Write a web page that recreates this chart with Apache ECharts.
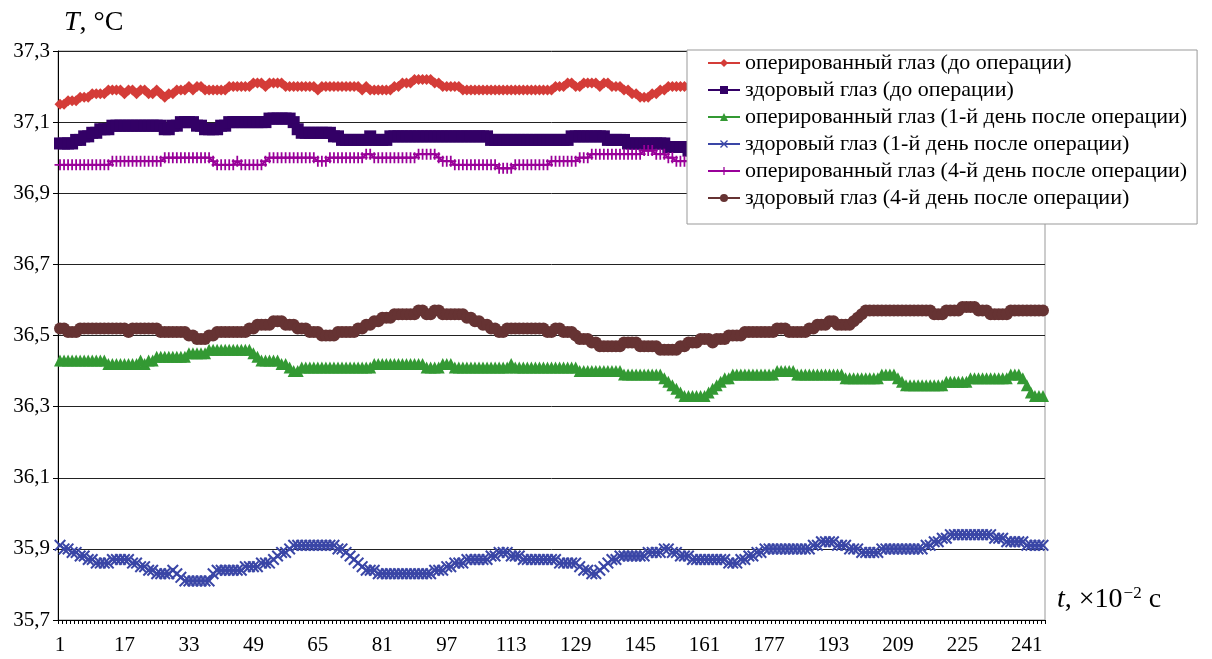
<!DOCTYPE html>
<html><head><meta charset="utf-8">
<script src="https://cdn.jsdelivr.net/npm/echarts@6/dist/echarts.min.js"></script>
<style>html,body{margin:0;padding:0;background:#fff}#c{width:1212px;height:659px}</style>
</head><body><div id="c"></div>
<script>
// categories 1..245 (time, x10^-2 s)
const categories = [];
for (let i = 1; i <= 245; i++) categories.push(String(i));

const seriesNames = [
  'оперированный глаз (до операции)',
  'здоровый глаз (до операции)',
  'оперированный глаз (1-й день после операции)',
  'здоровый глаз (1-й день после операции)',
  'оперированный глаз (4-й день после операции)',
  'здоровый глаз (4-й день после операции)'
];

const yTicks = [35.7, 35.9, 36.1, 36.3, 36.5, 36.7, 36.9, 37.1, 37.3];

const operBefore = [
37.15,37.15,37.16,37.16,37.16,37.17,37.17,37.17,37.18,37.18,
37.18,37.18,37.19,37.19,37.19,37.19,37.18,37.19,37.19,37.18,
37.19,37.19,37.18,37.18,37.19,37.18,37.17,37.18,37.18,37.19,
37.19,37.19,37.20,37.19,37.20,37.20,37.19,37.19,37.19,37.19,
37.19,37.19,37.20,37.20,37.20,37.20,37.20,37.20,37.21,37.21,
37.21,37.20,37.21,37.21,37.21,37.21,37.20,37.20,37.20,37.20,
37.20,37.20,37.20,37.20,37.19,37.20,37.20,37.20,37.20,37.20,
37.20,37.20,37.20,37.20,37.20,37.19,37.20,37.19,37.19,37.19,
37.19,37.19,37.19,37.20,37.20,37.21,37.21,37.21,37.22,37.22,
37.22,37.22,37.22,37.21,37.21,37.20,37.20,37.20,37.20,37.20,
37.19,37.19,37.19,37.19,37.19,37.19,37.19,37.19,37.19,37.19,
37.19,37.19,37.19,37.19,37.19,37.19,37.19,37.19,37.19,37.19,
37.19,37.19,37.19,37.20,37.20,37.20,37.21,37.21,37.20,37.20,
37.21,37.21,37.21,37.21,37.20,37.21,37.21,37.20,37.20,37.20,
37.19,37.19,37.18,37.18,37.17,37.17,37.17,37.18,37.18,37.19,
37.19,37.20,37.20,37.20,37.20,37.20,37.20,37.20,37.20,37.20,
37.20,37.20,37.20,37.20,37.21,37.21,37.21,37.20,37.20,37.20,
37.20,37.20,37.20,37.20,37.20,37.20,37.19,37.19,37.19,37.19,
37.19,37.19,37.20,37.20,37.20,37.20,37.20,37.21,37.21,37.21,
37.21,37.20,37.20,37.20,37.20,37.20,37.20,37.20,37.19,37.19,
37.19,37.19,37.19,37.20,37.20,37.20,37.20,37.20,37.20,37.20,
37.21,37.21,37.21,37.21,37.20,37.20,37.20,37.20,37.20,37.20,
37.20,37.20,37.20,37.20,37.21,37.21,37.21,37.21,37.21,37.20,
37.20,37.20,37.20,37.20,37.20,37.19,37.19,37.19,37.20,37.20,
37.20,37.20,37.20,37.20,37.20
];

const healthyBefore = [
37.04,37.04,37.04,37.04,37.05,37.05,37.06,37.06,37.07,37.07,
37.08,37.08,37.08,37.09,37.09,37.09,37.09,37.09,37.09,37.09,
37.09,37.09,37.09,37.09,37.09,37.09,37.08,37.08,37.09,37.09,
37.10,37.10,37.10,37.10,37.09,37.09,37.08,37.08,37.08,37.08,
37.09,37.09,37.10,37.10,37.10,37.10,37.10,37.10,37.10,37.10,
37.10,37.10,37.11,37.11,37.11,37.11,37.11,37.11,37.10,37.08,
37.07,37.07,37.07,37.07,37.07,37.07,37.07,37.07,37.06,37.06,
37.05,37.05,37.05,37.05,37.05,37.05,37.05,37.06,37.05,37.05,
37.05,37.05,37.06,37.06,37.06,37.06,37.06,37.06,37.06,37.06,
37.06,37.06,37.06,37.06,37.06,37.06,37.06,37.06,37.06,37.06,
37.06,37.06,37.06,37.06,37.06,37.06,37.06,37.05,37.05,37.05,
37.05,37.05,37.05,37.05,37.05,37.05,37.05,37.05,37.05,37.05,
37.05,37.05,37.05,37.05,37.05,37.05,37.05,37.06,37.06,37.06,
37.06,37.06,37.06,37.06,37.06,37.06,37.05,37.05,37.05,37.05,
37.05,37.04,37.04,37.04,37.04,37.04,37.04,37.04,37.04,37.04,
37.04,37.03,37.03,37.03,37.03,37.03,37.02,37.02,37.02,37.02,
37.02,37.02,37.02,37.02,37.03,37.03,37.03,37.03,37.03,37.03,
37.03,37.03,37.03,37.03,37.03,37.03,37.03,37.03,37.03,37.03,
37.04,37.04,37.04,37.04,37.04,37.04,37.04,37.04,37.04,37.04,
37.04,37.04,37.04,37.04,37.04,37.03,37.03,37.03,37.03,37.03,
37.03,37.03,37.03,37.03,37.03,37.03,37.03,37.03,37.03,37.03,
37.03,37.03,37.04,37.04,37.04,37.04,37.04,37.04,37.04,37.04,
37.04,37.04,37.04,37.04,37.04,37.04,37.04,37.04,37.04,37.04,
37.04,37.04,37.04,37.04,37.04,37.04,37.04,37.04,37.04,37.04,
37.04,37.04,37.04,37.04,37.04
];

const operDay1 = [
36.43,36.43,36.43,36.43,36.43,36.43,36.43,36.43,36.43,36.43,
36.43,36.43,36.42,36.42,36.42,36.42,36.42,36.42,36.42,36.42,
36.43,36.42,36.43,36.43,36.44,36.44,36.44,36.44,36.44,36.44,
36.44,36.44,36.45,36.45,36.45,36.45,36.45,36.46,36.46,36.46,
36.46,36.46,36.46,36.46,36.46,36.46,36.46,36.46,36.45,36.44,
36.43,36.43,36.43,36.43,36.43,36.42,36.42,36.41,36.40,36.40,
36.41,36.41,36.41,36.41,36.41,36.41,36.41,36.41,36.41,36.41,
36.41,36.41,36.41,36.41,36.41,36.41,36.41,36.41,36.42,36.42,
36.42,36.42,36.42,36.42,36.42,36.42,36.42,36.42,36.42,36.42,
36.42,36.41,36.41,36.41,36.41,36.42,36.42,36.42,36.41,36.41,
36.41,36.41,36.41,36.41,36.41,36.41,36.41,36.41,36.41,36.41,
36.41,36.41,36.42,36.41,36.41,36.41,36.41,36.41,36.41,36.41,
36.41,36.41,36.41,36.41,36.41,36.41,36.41,36.41,36.41,36.40,
36.40,36.40,36.40,36.40,36.40,36.40,36.40,36.40,36.40,36.40,
36.39,36.39,36.39,36.39,36.39,36.39,36.39,36.39,36.39,36.39,
36.38,36.37,36.36,36.35,36.34,36.33,36.33,36.33,36.33,36.33,
36.33,36.34,36.35,36.36,36.37,36.38,36.38,36.39,36.39,36.39,
36.39,36.39,36.39,36.39,36.39,36.39,36.39,36.39,36.40,36.40,
36.40,36.40,36.40,36.39,36.39,36.39,36.39,36.39,36.39,36.39,
36.39,36.39,36.39,36.39,36.39,36.38,36.38,36.38,36.38,36.38,
36.38,36.38,36.38,36.38,36.39,36.39,36.39,36.39,36.38,36.37,
36.36,36.36,36.36,36.36,36.36,36.36,36.36,36.36,36.36,36.36,
36.37,36.37,36.37,36.37,36.37,36.37,36.38,36.38,36.38,36.38,
36.38,36.38,36.38,36.38,36.38,36.38,36.39,36.39,36.39,36.38,
36.36,36.34,36.33,36.33,36.33
];

const healthyDay1 = [
35.91,35.90,35.90,35.89,35.89,35.88,35.88,35.87,35.87,35.86,
35.86,35.86,35.86,35.87,35.87,35.87,35.87,35.87,35.86,35.86,
35.85,35.85,35.84,35.84,35.83,35.83,35.83,35.83,35.84,35.83,
35.82,35.81,35.81,35.81,35.81,35.81,35.81,35.81,35.83,35.84,
35.84,35.84,35.84,35.84,35.84,35.84,35.85,35.85,35.85,35.85,
35.86,35.86,35.86,35.87,35.88,35.89,35.89,35.90,35.91,35.91,
35.91,35.91,35.91,35.91,35.91,35.91,35.91,35.91,35.91,35.90,
35.90,35.89,35.88,35.87,35.86,35.85,35.84,35.84,35.84,35.83,
35.83,35.83,35.83,35.83,35.83,35.83,35.83,35.83,35.83,35.83,
35.83,35.83,35.83,35.84,35.84,35.84,35.85,35.85,35.86,35.86,
35.86,35.87,35.87,35.87,35.87,35.87,35.87,35.88,35.88,35.89,
35.89,35.89,35.88,35.88,35.88,35.87,35.87,35.87,35.87,35.87,
35.87,35.87,35.87,35.87,35.86,35.86,35.86,35.86,35.86,35.85,
35.84,35.84,35.83,35.83,35.84,35.85,35.86,35.87,35.87,35.88,
35.88,35.88,35.88,35.88,35.88,35.88,35.89,35.89,35.89,35.89,
35.90,35.90,35.89,35.89,35.88,35.88,35.88,35.87,35.87,35.87,
35.87,35.87,35.87,35.87,35.87,35.87,35.86,35.86,35.86,35.87,
35.87,35.88,35.88,35.89,35.89,35.90,35.90,35.90,35.90,35.90,
35.90,35.90,35.90,35.90,35.90,35.90,35.90,35.91,35.91,35.92,
35.92,35.92,35.92,35.91,35.91,35.91,35.90,35.90,35.90,35.89,
35.89,35.89,35.89,35.89,35.90,35.90,35.90,35.90,35.90,35.90,
35.90,35.90,35.90,35.90,35.90,35.91,35.91,35.92,35.92,35.93,
35.93,35.94,35.94,35.94,35.94,35.94,35.94,35.94,35.94,35.94,
35.94,35.94,35.93,35.93,35.93,35.92,35.92,35.92,35.92,35.92,
35.91,35.91,35.91,35.91,35.91
];

const operDay4 = [
36.98,36.98,36.98,36.98,36.98,36.98,36.98,36.98,36.98,36.98,
36.98,36.98,36.98,36.99,36.99,36.99,36.99,36.99,36.99,36.99,
36.99,36.99,36.99,36.99,36.99,36.99,37.00,37.00,37.00,37.00,
37.00,37.00,37.00,37.00,37.00,37.00,37.00,37.00,36.99,36.98,
36.98,36.98,36.98,36.98,36.99,36.98,36.98,36.98,36.98,36.98,
36.98,36.99,37.00,37.00,37.00,37.00,37.00,37.00,37.00,37.00,
37.00,37.00,37.00,37.00,36.99,36.99,36.99,37.00,37.00,37.00,
37.00,37.00,37.00,37.00,37.00,37.00,37.01,37.01,37.00,37.00,
37.00,37.00,37.00,37.00,37.00,37.00,37.00,37.00,37.00,37.01,
37.01,37.01,37.01,37.01,37.00,36.99,36.99,36.99,36.98,36.98,
36.98,36.98,36.98,36.98,36.98,36.98,36.98,36.98,36.98,36.97,
36.97,36.97,36.97,36.98,36.98,36.98,36.98,36.98,36.98,36.98,
36.98,36.98,36.99,36.99,36.99,36.99,36.99,36.99,36.99,37.00,
37.00,37.00,37.01,37.01,37.01,37.01,37.01,37.01,37.01,37.01,
37.01,37.01,37.01,37.01,37.01,37.02,37.02,37.02,37.01,37.01,
37.01,37.00,37.00,36.99,36.99,36.99,36.99,36.99,36.99,36.99,
36.99,36.99,36.99,36.99,36.99,36.99,36.99,36.99,36.99,37.00,
37.00,37.00,37.00,37.00,37.00,37.00,37.00,37.00,37.00,37.00,
37.00,37.00,37.00,37.00,37.00,37.00,37.00,37.00,37.00,37.00,
37.00,37.00,37.01,37.01,37.01,37.01,37.01,37.01,37.01,37.01,
37.00,37.00,37.00,37.00,37.00,37.00,37.00,37.00,37.00,37.00,
37.00,37.00,37.00,37.00,37.00,37.00,37.00,37.00,37.00,37.00,
37.00,37.00,37.00,37.00,37.01,37.01,37.01,37.01,37.01,37.01,
37.01,37.01,37.01,37.01,37.01,37.01,37.01,37.01,37.01,37.01,
37.01,37.01,37.01,37.01,37.01
];

const healthyDay4 = [
36.52,36.52,36.51,36.51,36.51,36.52,36.52,36.52,36.52,36.52,
36.52,36.52,36.52,36.52,36.52,36.52,36.52,36.51,36.52,36.52,
36.52,36.52,36.52,36.52,36.52,36.51,36.51,36.51,36.51,36.51,
36.51,36.51,36.50,36.50,36.49,36.49,36.49,36.50,36.50,36.51,
36.51,36.51,36.51,36.51,36.51,36.51,36.51,36.52,36.52,36.53,
36.53,36.53,36.53,36.54,36.54,36.54,36.53,36.53,36.53,36.52,
36.52,36.52,36.51,36.51,36.51,36.50,36.50,36.50,36.50,36.51,
36.51,36.51,36.51,36.51,36.52,36.52,36.53,36.53,36.54,36.54,
36.55,36.55,36.55,36.56,36.56,36.56,36.56,36.56,36.56,36.57,
36.57,36.56,36.56,36.57,36.57,36.56,36.56,36.56,36.56,36.56,
36.56,36.55,36.55,36.54,36.54,36.53,36.53,36.52,36.52,36.51,
36.51,36.52,36.52,36.52,36.52,36.52,36.52,36.52,36.52,36.52,
36.52,36.51,36.51,36.52,36.52,36.51,36.51,36.51,36.50,36.49,
36.49,36.49,36.48,36.48,36.47,36.47,36.47,36.47,36.47,36.47,
36.48,36.48,36.48,36.48,36.47,36.47,36.47,36.47,36.47,36.46,
36.46,36.46,36.46,36.46,36.47,36.47,36.48,36.48,36.48,36.49,
36.49,36.49,36.48,36.49,36.49,36.49,36.50,36.50,36.50,36.50,
36.51,36.51,36.51,36.51,36.51,36.51,36.51,36.51,36.52,36.52,
36.52,36.51,36.51,36.51,36.51,36.51,36.52,36.52,36.53,36.53,
36.53,36.54,36.54,36.53,36.53,36.53,36.53,36.54,36.55,36.56,
36.57,36.57,36.57,36.57,36.57,36.57,36.57,36.57,36.57,36.57,
36.57,36.57,36.57,36.57,36.57,36.57,36.57,36.56,36.56,36.56,
36.57,36.57,36.57,36.57,36.58,36.58,36.58,36.58,36.57,36.57,
36.57,36.56,36.56,36.56,36.56,36.56,36.57,36.57,36.57,36.57,
36.57,36.57,36.57,36.57,36.57
];

const seriesData = [operBefore, healthyBefore, operDay1, healthyDay1, operDay4, healthyDay4];
const colors = ['#d43c38', '#330066', '#339933', '#3a46a6', '#990099', '#663333'];
const symbols = [
  'diamond',
  'rect',
  'triangle',
  'path://M0,1.2L1.2,0L5,3.8L8.8,0L10,1.2L6.2,5L10,8.8L8.8,10L5,6.2L1.2,10L0,8.8L3.8,5Z',
  'path://M4.2,0H5.8V4.2H10V5.8H5.8V10H4.2V5.8H0V4.2H4.2Z',
  'circle'
];
const symbolSizes = [11, 12, 12, 12, 11, 12];

const SERIF = '"Liberation Serif", "DejaVu Serif", serif';

const chart = echarts.init(document.getElementById('c'), null, {renderer: 'canvas'});

const series = seriesNames.map((name, k) => ({
  name: name,
  type: 'line',
  data: seriesData[k],
  symbol: symbols[k],
  symbolSize: symbolSizes[k],
  showSymbol: true,
  showAllSymbol: true,
  color: colors[k],
  itemStyle: {color: colors[k]},
  lineStyle: {color: colors[k], width: 2},
  emphasis: {disabled: true},
  z: 2
}));

chart.setOption({
  animation: false,
  backgroundColor: '#fff',
  grid: {left: 58, right: 167, top: 51, bottom: 39, show: true, borderColor: '#999', borderWidth: 1},
  legend: {
    orient: 'vertical',
    left: 687,
    top: 50,
    padding: [2, 10, 15, 20],
    itemGap: 5,
    itemWidth: 32,
    itemHeight: 10,
    backgroundColor: '#fff',
    borderColor: '#999',
    borderWidth: 1,
    borderRadius: 0,
    textStyle: {fontFamily: SERIF, fontSize: 22, color: '#000', lineHeight: 22},
    data: seriesNames,
    z: 10
  },
  xAxis: {
    type: 'category',
    data: categories,
    boundaryGap: true,
    axisLine: {lineStyle: {color: '#000', width: 1}},
    axisTick: {show: true, interval: 0, length: 4, lineStyle: {color: '#000'}},
    axisLabel: {interval: 15, color: '#000', fontFamily: SERIF, fontSize: 21, margin: 15},
    splitLine: {show: false}
  },
  yAxis: {
    type: 'value',
    min: 35.7,
    max: 37.3,
    interval: 0.2,
    axisLine: {show: true, lineStyle: {color: '#000', width: 1}},
    axisTick: {show: true, length: 5, lineStyle: {color: '#000'}},
    axisLabel: {
      color: '#000', fontFamily: SERIF, fontSize: 21, margin: 8,
      formatter: v => {
        const t = yTicks.find(x => Math.abs(x - v) < 1e-6);
        return t === undefined ? '' : t.toFixed(1).replace('.', ',');
      }
    },
    splitLine: {show: true, lineStyle: {color: '#222', width: 1}}
  },
  graphic: [
    {
      type: 'text', left: 64, top: 9, z: 20,
      style: {
        text: '{i|T}, °C',
        fill: '#000',
        font: '28px ' + SERIF,
        rich: {i: {fontStyle: 'italic', fontFamily: SERIF, fontSize: 28, fill: '#000'}}
      }
    },
    {
      type: 'text', left: 1057, top: 585, z: 20,
      style: {
        text: '{i|t}, ×10{s|−2} c',
        fill: '#000',
        font: '28px ' + SERIF,
        rich: {
          i: {fontStyle: 'italic', fontFamily: SERIF, fontSize: 28, fill: '#000'},
          s: {fontFamily: SERIF, fontSize: 17, fill: '#000', verticalAlign: 'top', padding: [0, 0, 12, 1]}
        }
      }
    }
  ],
  series: series
});
</script>
</body></html>
